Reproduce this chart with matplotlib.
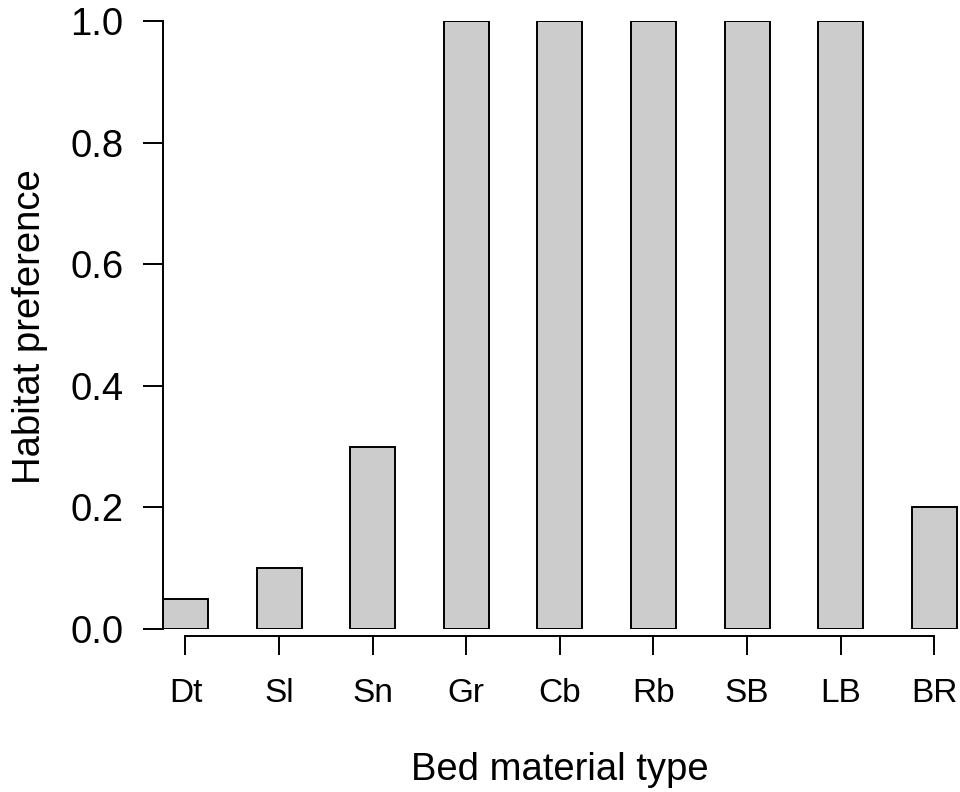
import matplotlib.pyplot as plt

plt.rcParams['font.family'] = ['Liberation Sans', 'DejaVu Sans']

materials = ['Dt', 'Sl', 'Sn', 'Gr', 'Cb', 'Rb', 'SB', 'LB', 'BR']
preference = [0.05, 0.1, 0.3, 1.0, 1.0, 1.0, 1.0, 1.0, 0.2]

W, H = 960, 792
fig = plt.figure(figsize=(W / 100, H / 100), dpi=100)
ax = fig.add_axes([163 / W, 1 - 629 / H, (960 - 163) / W, (629 - 21) / H])

x = list(range(len(materials)))
ax.bar(x, preference, width=0.48, color='#cccccc', edgecolor='black', linewidth=1.4)

ax.set_xlim(-0.24, 8.275)
ax.set_ylim(0, 1)

# R-style axes: detached x axis, bounded spines
for s in ['top', 'right']:
    ax.spines[s].set_visible(False)
ax.spines['left'].set_bounds(0, 1)
ax.spines['left'].set_linewidth(1.4)
ax.spines['bottom'].set_position(('outward', 5))
ax.spines['bottom'].set_bounds(0, 8)
ax.spines['bottom'].set_linewidth(1.4)

ax.set_yticks([0, 0.2, 0.4, 0.6, 0.8, 1.0])
ax.set_yticklabels(['0.0', '0.2', '0.4', '0.6', '0.8', '1.0'])
ax.set_xticks(x)
ax.set_xticklabels(materials)
ax.tick_params(axis='y', length=14.4, width=1.4, pad=14, labelsize=27.5)
ax.tick_params(axis='x', length=14, width=1.4, pad=16, labelsize=24)

fig.text(560 / W, 1 - 770 / H, 'Bed material type', ha='center', va='center', fontsize=27.5)
fig.text(30 / W, 1 - 327 / H, 'Habitat preference', ha='center', va='center',
         rotation=90, fontsize=27.5)

fig.savefig('out.png', dpi=100)
